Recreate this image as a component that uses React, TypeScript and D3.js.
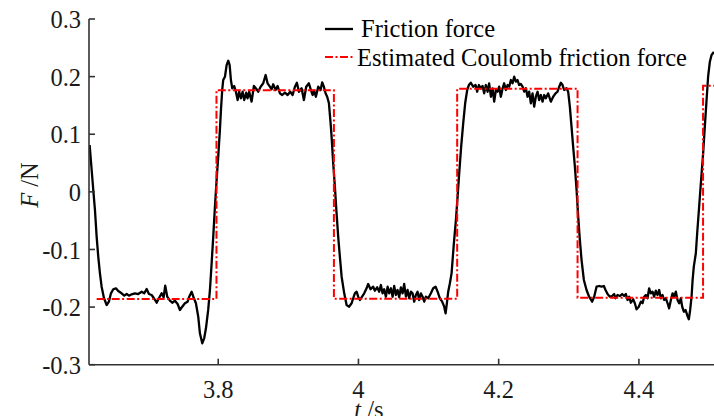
import React from "react";
import * as d3 from "d3";

const W = 714;
const H = 416;

// x-axis domain (seconds) and y-axis domain (N)
const xDomain = [3.6157, 4.5071];
const yDomain = [-0.3, 0.3];
const xTicks = [3.8, 4.0, 4.2, 4.4];
const xTickLabels = ["3.8", "4", "4.2", "4.4"];
const yTicks = [0.3, 0.2, 0.1, 0, -0.1, -0.2, -0.3];
const yTickLabels = ["0.3", "0.2", "0.1", "0", "-0.1", "-0.2", "-0.3"];

// Friction force (measured)
const frictionT = [
  3.6166, 3.6195, 3.6218, 3.6242, 3.6266, 3.6289, 3.6313, 3.6337, 3.637, 3.6409,
  3.6441, 3.647, 3.6503, 3.6541, 3.6574, 3.6622, 3.666, 3.6694, 3.6727, 3.6765,
  3.6812, 3.6859, 3.6908, 3.6945, 3.6979, 3.7012, 3.705, 3.7083, 3.7122, 3.7154,
  3.7193, 3.7221, 3.7244, 3.7273, 3.7311, 3.7344, 3.7383, 3.7421, 3.7454, 3.7487,
  3.7525, 3.7564, 3.7586, 3.7621, 3.7653, 3.7682, 3.7715, 3.7739, 3.7772, 3.78,
  3.7825, 3.7857, 3.7882, 3.7906, 3.7929, 3.7953, 3.7977, 3.8, 3.8024, 3.8039,
  3.8057, 3.8071, 3.8096, 3.812, 3.8143, 3.8163, 3.8181, 3.82, 3.8228, 3.8252,
  3.8277, 3.8299, 3.8324, 3.8348, 3.8371, 3.8399, 3.8419, 3.8442, 3.8476, 3.8509,
  3.8548, 3.857, 3.8605, 3.8642, 3.8676, 3.8704, 3.8737, 3.8761, 3.8784, 3.8819,
  3.8847, 3.888, 3.8913, 3.8951, 3.899, 3.9027, 3.9061, 3.9094, 3.9122, 3.9151,
  3.9189, 3.9222, 3.9255, 3.9293, 3.9322, 3.9346, 3.9369, 3.9393, 3.9426, 3.946,
  3.9483, 3.9507, 3.9531, 3.9554, 3.9579, 3.9603, 3.9617, 3.964, 3.9664, 3.9688,
  3.9711, 3.9735, 3.976, 3.9797, 3.9831, 3.9868, 3.9902, 3.9925, 3.9949, 3.9974,
  3.9996, 4.0021, 4.0045, 4.0082, 4.0116, 4.0139, 4.0173, 4.021, 4.0235, 4.0267,
  4.0296, 4.032, 4.0344, 4.0367, 4.0391, 4.0416, 4.0438, 4.0463, 4.0487, 4.051,
  4.0534, 4.0558, 4.0581, 4.0605, 4.063, 4.0652, 4.0677, 4.0701, 4.0724, 4.0748,
  4.0772, 4.0795, 4.0819, 4.0843, 4.0866, 4.089, 4.0915, 4.0938, 4.0962, 4.0995,
  4.1033, 4.1066, 4.11, 4.1129, 4.1161, 4.1194, 4.1223, 4.1243, 4.1261, 4.128,
  4.1304, 4.1328, 4.1361, 4.139, 4.1414, 4.1437, 4.1465, 4.1494, 4.1522, 4.1551,
  4.1575, 4.1603, 4.1636, 4.1671, 4.1693, 4.1718, 4.1746, 4.177, 4.1793, 4.1817,
  4.1842, 4.1864, 4.1889, 4.1913, 4.1936, 4.196, 4.1984, 4.2007, 4.2031, 4.2056,
  4.2078, 4.2103, 4.2127, 4.215, 4.2174, 4.2198, 4.2221, 4.2245, 4.2269, 4.2292,
  4.2317, 4.2341, 4.2364, 4.2388, 4.2412, 4.2435, 4.2459, 4.2483, 4.2506, 4.253,
  4.2555, 4.2577, 4.2602, 4.2626, 4.2649, 4.2673, 4.2706, 4.2744, 4.2777, 4.2811,
  4.284, 4.2863, 4.2887, 4.2911, 4.2934, 4.2968, 4.2991, 4.3015, 4.3039, 4.3062,
  4.3087, 4.3111, 4.3134, 4.3158, 4.3182, 4.3215, 4.3253, 4.329, 4.3333, 4.3362,
  4.3396, 4.3433, 4.3467, 4.35, 4.3524, 4.3553, 4.3586, 4.3618, 4.3647, 4.3667,
  4.3695, 4.3728, 4.3761, 4.379, 4.3814, 4.3838, 4.3861, 4.3885, 4.3918, 4.3942,
  4.3966, 4.3999, 4.4028, 4.4052, 4.4075, 4.4099, 4.4123, 4.4146, 4.417, 4.4195,
  4.4217, 4.4241, 4.4266, 4.4289, 4.4313, 4.4337, 4.436, 4.4384, 4.4409, 4.4431,
  4.4456, 4.448, 4.4503, 4.4527, 4.4551, 4.4574, 4.4598, 4.4617, 4.4641, 4.4665,
  4.4688, 4.4712, 4.4731, 4.4751, 4.4766, 4.4783, 4.4812, 4.4831, 4.4859, 4.4887,
  4.4916, 4.494, 4.4965, 4.4987, 4.5012, 4.5036, 4.5069,
];
const frictionF = [
  0.0813, 0.0379, 0.0032, -0.0315, -0.0778, -0.1125, -0.1414, -0.1646, -0.1842, -0.1964,
  -0.1906, -0.1761, -0.1691, -0.1674, -0.1721, -0.1761, -0.1802, -0.1773, -0.1802, -0.1778,
  -0.1761, -0.1773, -0.1733, -0.1761, -0.1686, -0.1773, -0.179, -0.1847, -0.1924, -0.1847,
  -0.1761, -0.183, -0.1629, -0.182, -0.1889, -0.1924, -0.1889, -0.1946, -0.205, -0.1993,
  -0.1934, -0.1906, -0.182, -0.1733, -0.1847, -0.1934, -0.2167, -0.2455, -0.2628, -0.2542,
  -0.2368, -0.205, -0.1703, -0.124, -0.0778, -0.0258, 0.0206, 0.061, 0.1073, 0.142,
  0.1768, 0.1941, 0.1998, 0.2201, 0.2276, 0.2201, 0.1941, 0.1797, 0.1837, 0.1738,
  0.1594, 0.1738, 0.1624, 0.1738, 0.1594, 0.1721, 0.1624, 0.1738, 0.1565, 0.1837,
  0.178, 0.1738, 0.1825, 0.1884, 0.2028, 0.1884, 0.1825, 0.178, 0.1867, 0.1768,
  0.1837, 0.171, 0.1681, 0.1721, 0.1681, 0.1738, 0.1681, 0.1825, 0.1894, 0.1738,
  0.1797, 0.1594, 0.1825, 0.1884, 0.1768, 0.1681, 0.1755, 0.1651, 0.1825, 0.1768,
  0.1901, 0.1825, 0.171, 0.1651, 0.1537, 0.119, 0.0957, 0.0495, 0.0089, -0.0372,
  -0.0778, -0.1125, -0.1473, -0.1761, -0.1964, -0.1993, -0.1934, -0.1847, -0.1761, -0.1733,
  -0.182, -0.1877, -0.183, -0.1761, -0.1674, -0.1599, -0.1691, -0.1646, -0.1716, -0.1657,
  -0.1733, -0.1617, -0.1761, -0.1691, -0.182, -0.1646, -0.1761, -0.1674, -0.182, -0.1634,
  -0.179, -0.1703, -0.183, -0.1657, -0.1761, -0.1599, -0.182, -0.1703, -0.1847, -0.1733,
  -0.1761, -0.1906, -0.179, -0.1733, -0.1877, -0.1761, -0.182, -0.1906, -0.182, -0.1847,
  -0.1761, -0.1674, -0.1646, -0.1733, -0.1847, -0.1906, -0.1993, -0.2108, -0.1934, -0.1733,
  -0.1587, -0.1414, -0.0893, -0.0489, -0.0084, 0.0322, 0.0784, 0.119, 0.1537, 0.1768,
  0.1854, 0.1894, 0.1825, 0.1854, 0.1738, 0.1854, 0.1797, 0.1837, 0.171, 0.1854,
  0.1738, 0.1884, 0.1651, 0.1797, 0.1565, 0.1768, 0.1738, 0.1825, 0.1651, 0.1797,
  0.1884, 0.1768, 0.1854, 0.1825, 0.1941, 0.1884, 0.1998, 0.1912, 0.1941, 0.1854,
  0.1872, 0.1825, 0.1738, 0.1797, 0.1651, 0.1738, 0.1537, 0.171, 0.1478, 0.1651,
  0.1738, 0.1594, 0.1681, 0.1565, 0.1681, 0.1624, 0.171, 0.1565, 0.1651, 0.171,
  0.1738, 0.1825, 0.1894, 0.1854, 0.1768, 0.1797, 0.1738, 0.1478, 0.1131, 0.0784,
  0.0436, 0.0032, -0.0431, -0.0836, -0.1183, -0.153, -0.1703, -0.182, -0.1906, -0.182,
  -0.1646, -0.1634, -0.1646, -0.1634, -0.1703, -0.1773, -0.182, -0.1808, -0.1773, -0.1847,
  -0.179, -0.1808, -0.1773, -0.1808, -0.1773, -0.1877, -0.182, -0.1924, -0.1865, -0.1934,
  -0.2038, -0.1993, -0.1906, -0.1934, -0.182, -0.179, -0.1847, -0.1674, -0.1761, -0.1733,
  -0.182, -0.1716, -0.179, -0.1703, -0.1847, -0.179, -0.1877, -0.1847, -0.1934, -0.2021,
  -0.1877, -0.1761, -0.182, -0.1733, -0.1877, -0.1934, -0.1847, -0.1993, -0.208, -0.205,
  -0.2137, -0.2212, -0.205, -0.182, -0.153, -0.1299, -0.1066, -0.0719, -0.0258, 0.0206,
  0.0669, 0.1131, 0.1594, 0.1998, 0.2259, 0.2375, 0.2427,
];

// Estimated Coulomb friction force (step levels, each held until the next time)
const coulombT = [3.6266, 3.7975, 3.965, 4.1408, 4.3125, 4.4915, 4.5071];
const coulombF = [-0.186, 0.1765, -0.1855, 0.179, -0.1838, 0.184, 0.184];

const legendLabels = ["Friction force", "Estimated Coulomb friction force"];

const FONT = '"Liberation Serif", "Times New Roman", serif';
const AXIS_COLOR = "#333333";
const TEXT_COLOR = "#1a1a1a";

export default function App() {
  const left = 89;
  const right = 714;
  const top = 19;
  const bottom = 364.7;

  const x = d3.scaleLinear().domain(xDomain).range([left, right]);
  const y = d3.scaleLinear().domain(yDomain).range([bottom, top]);

  const frictionPts: [number, number][] = frictionT.map((t, i) => [t, frictionF[i]]);
  const coulombPts: [number, number][] = coulombT.map((t, i) => [t, coulombF[i]]);

  const line = d3
    .line<[number, number]>()
    .x((d) => x(d[0]))
    .y((d) => y(d[1]));
  const stepLine = d3
    .line<[number, number]>()
    .x((d) => x(d[0]))
    .y((d) => y(d[1]))
    .curve(d3.curveStepAfter);

  return (
    <svg
      width={W}
      height={H}
      style={{ position: "absolute", left: 0, top: 0, background: "#fff" }}
      fontFamily={FONT}
    >
      <rect x={0} y={0} width={W} height={H} fill="#fff" />
      <defs>
        <clipPath id="plotclip">
          <rect x={left} y={0} width={right - left} height={H} />
        </clipPath>
      </defs>

      {/* Data */}
      <g clipPath="url(#plotclip)">
        <path
          d={line(frictionPts) || ""}
          fill="none"
          stroke="#000"
          strokeWidth={2.3}
          strokeLinejoin="round"
        />
        <path
          d={stepLine(coulombPts) || ""}
          fill="none"
          stroke="#ff0000"
          strokeWidth={2}
          strokeDasharray="8,2.5,2,2.5"
        />
      </g>

      {/* Axes */}
      <line x1={left} x2={left} y1={top} y2={bottom} stroke={AXIS_COLOR} strokeWidth={1.6} />
      <line x1={left} x2={right} y1={bottom} y2={bottom} stroke={AXIS_COLOR} strokeWidth={1.6} />

      {yTicks.map((v, i) => (
        <g key={"y" + i}>
          <line x1={left} x2={left + 6} y1={y(v)} y2={y(v)} stroke={AXIS_COLOR} strokeWidth={1.6} />
          <text
            x={left - 8}
            y={y(v)}
            dy="0.37em"
            textAnchor="end"
            fontSize={24.5}
            fill={TEXT_COLOR}
          >
            {yTickLabels[i]}
          </text>
        </g>
      ))}

      {xTicks.map((v, i) => (
        <g key={"x" + i}>
          <line x1={x(v)} x2={x(v)} y1={bottom} y2={bottom - 6} stroke={AXIS_COLOR} strokeWidth={1.6} />
          <text x={x(v)} y={398} textAnchor="middle" fontSize={24.5} fill={TEXT_COLOR}>
            {xTickLabels[i]}
          </text>
        </g>
      ))}

      {/* Axis titles */}
      <text x={369} y={418} textAnchor="middle" fontSize={24.5} fill={TEXT_COLOR}>
        <tspan fontStyle="italic">t</tspan>
        <tspan> /s</tspan>
      </text>
      <text
        transform="translate(38,185) rotate(-90)"
        textAnchor="middle"
        fontSize={24.5}
        fill={TEXT_COLOR}
      >
        <tspan fontStyle="italic">F</tspan>
        <tspan> /N</tspan>
      </text>

      {/* Legend */}
      <line x1={325} x2={353} y1={29} y2={29} stroke="#000" strokeWidth={2.3} />
      <text x={361} y={36.7} fontSize={24.5} fill="#000">
        {legendLabels[0]}
      </text>
      <line
        x1={325}
        x2={353}
        y1={57}
        y2={57}
        stroke="#ff0000"
        strokeWidth={2}
        strokeDasharray="8,2.5,2,2.5"
      />
      <text x={357} y={65.7} fontSize={24.5} fill="#000">
        {legendLabels[1]}
      </text>
    </svg>
  );
}
